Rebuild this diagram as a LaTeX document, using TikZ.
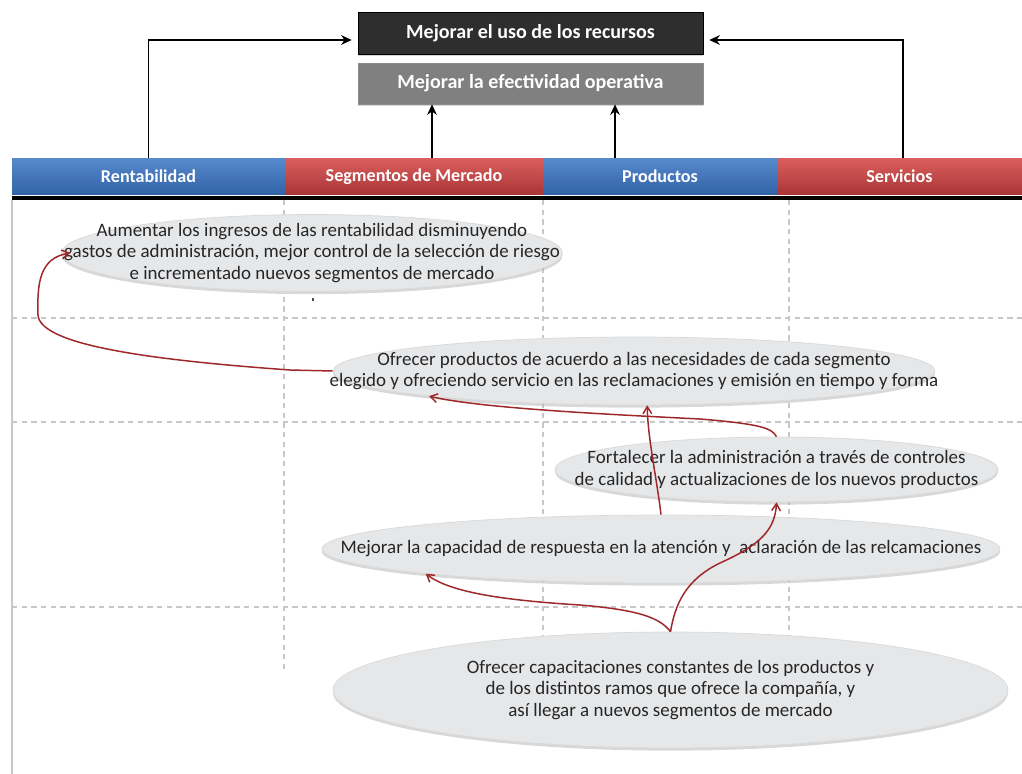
\documentclass[tikz,border=0pt]{standalone}
\usepackage{fontspec}
\setmainfont{Carlito}
\usetikzlibrary{shapes.geometric,arrows.meta,shadows}
\definecolor{barblue}{RGB}{58,116,196}
\definecolor{barred}{RGB}{212,66,66}
\definecolor{ovalgray}{RGB}{230,231,233}
\definecolor{arrowred}{RGB}{158,40,42}
\tikzset{
  bar/.style={minimum height=0.74cm, inner sep=0pt, text=white, font=\bfseries\fontsize{10.3}{12}\selectfont},
  bluebar/.style={bar, top color=barblue!85!white, bottom color=barblue!85!black},
  redbar/.style={bar, top color=barred!85!white, bottom color=barred!80!black},
  goal/.style={minimum width=6.9cm, inner sep=0pt, text=white, font=\bfseries\fontsize{11.4}{13}\selectfont,
    drop shadow={shadow xshift=0pt, shadow yshift=-1pt, fill=black!40, opacity=.4}},
  oval/.style={ellipse, inner sep=0pt, fill=ovalgray, draw=black!15,
    drop shadow={shadow xshift=0pt, shadow yshift=-1.5pt, fill=black!30, opacity=.5}},
  ovaltext/.style={align=center, inner sep=0pt, text=black!85, font=\fontsize{10.8}{12.2}\selectfont},
  redarr/.style={draw=arrowred, line width=0.85pt, -{Straight Barb[length=4pt,width=5pt]}},
  blkarr/.style={line width=1pt, -{Stealth[length=6pt,width=5.5pt]}},
  grid/.style={black!22, line width=0.8pt, dash pattern=on 3pt off 2.5pt}
}
\begin{document}
\begin{tikzpicture}[x=0.02cm,y=-0.02cm]
  \useasboundingbox (0,0) rectangle (1022,774);
  % lines of the table
  \draw[black!22, line width=1.2pt] (12,200) -- (12,774);
  \foreach \y in {318,422,607}
    \draw[grid] (12,\y) -- (1022,\y);
  \draw[grid] (284,200) -- (284,670);
  \foreach \x in {543,789}
    \draw[grid] (\x,200) -- (\x,635);
  \fill[black!70] (312,298) rectangle (314,301);

  \node[goal, minimum height=0.84cm, fill=black!82, draw=black] (uso) at (530.5,33) {Mejorar el uso de los recursos};
  \node[goal, minimum height=0.82cm, fill=black!50, draw=black!45] (efec) at (530.5,83.5) {Mejorar la efectividad operativa};

  \node[bluebar, minimum width=5.46cm] (rent) at (148.5,176.5) {Rentabilidad};
  \node[redbar, minimum width=5.16cm] (segm) at (414,176.5) {Segmentos de Mercado};
  \node[bluebar, minimum width=4.68cm] (prod) at (660,176.5) {Productos};
  \node[redbar, minimum width=4.9cm] (serv) at (899.5,176.5) {Servicios};
  \fill[black] (12,196) rectangle (1022,200);

  \draw[blkarr, shorten >=0.12cm] (rent.north) |- ([yshift=-0.14cm]uso.west);
  \draw[blkarr, shorten >=0.12cm] ([xshift=0.07cm]serv.north) |- ([yshift=-0.14cm]uso.east);
  \draw[blkarr] ([xshift=0.36cm]segm.north) -- ([xshift=0.36cm]segm.north |- efec.south);
  \draw[blkarr] ([xshift=-0.9cm]prod.north) -- ([xshift=-0.9cm]prod.north |- efec.south);

  \node[oval, minimum width=10.02cm, minimum height=1.54cm] (e1) at (312,253) {};
  \node[ovaltext] (e1t) at (e1) {Aumentar los ingresos de las rentabilidad disminuyendo\\gastos de administración, mejor control de la selección de riesgo\\e incrementado nuevos segmentos de mercado};
  \node[oval, minimum width=12.04cm, minimum height=1.36cm] (e2) at (634,371) {};
  \node[ovaltext] (e2t) at (e2) {Ofrecer productos de acuerdo a las necesidades de cada segmento\\elegido y ofreciendo servicio en las reclamaciones y emisión en tiempo y forma};
  \node[oval, minimum width=8.86cm, minimum height=1.3cm] (e3) at (776.5,469.5) {};
  \node[ovaltext] (e3t) at (e3) {Fortalecer la administración a través de controles\\de calidad y actualizaciones de los nuevos productos};
  \node[oval, minimum width=13.56cm, minimum height=1.36cm] (e4) at (661,549) {};
  \node[ovaltext] (e4t) at (e4) {Mejorar la capacidad de respuesta en la atención y~ aclaración de las relcamaciones};
  \node[oval, minimum width=13.5cm, minimum height=2.32cm] (e5) at (670.5,690) {};
  \node[ovaltext] (e5t) at (e5) {Ofrecer capacitaciones constantes de los productos y\\de los distintos ramos que ofrece la compañía, y\\así llegar a nuevos segmentos de mercado};

  \draw[redarr] (e2.west) -- (290,370) .. controls (150,360) and (40,345) .. (38,315)
    .. controls (37,282) and (40,258) .. ([xshift=0.18cm]e1.west);
  \draw[redarr] (e3.north) .. controls (772,428) and (760,424) .. (700,419)
    .. controls (600,414) and (480,408) .. (e2.187);
  \draw[redarr] (e4.north) .. controls (657,480) and (648,440) .. (e2.291);
  \draw[redarr] (e5.north) .. controls (660,618) and (640,610) .. (580,605)
    .. controls (500,600) and (450,592) .. (e4.186);
  \draw[redarr] (e5.north) .. controls (675,605) and (685,580) .. (720,563)
    .. controls (760,545) and (775,530) .. (e3.south);
\end{tikzpicture}
\end{document}
